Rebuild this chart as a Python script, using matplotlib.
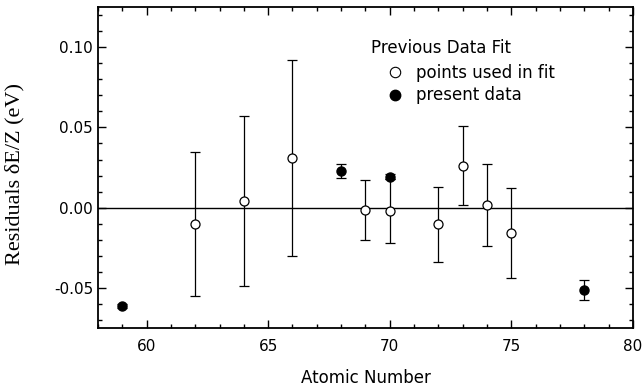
import matplotlib
matplotlib.use('Agg')
import matplotlib.pyplot as plt
from matplotlib.ticker import MultipleLocator
from matplotlib.lines import Line2D

# Residuals of the previous data fit.
fit_z = [62, 64, 66, 69, 70, 72, 73, 74, 75]
fit_res = [-0.0102, 0.0040, 0.0310, -0.0015, -0.0021, -0.0104, 0.0260, 0.0017, -0.0160]
fit_err = [0.0450, 0.0530, 0.0610, 0.0188, 0.0202, 0.0235, 0.0246, 0.0257, 0.0280]

present_z = [59, 68, 70, 78]
present_res = [-0.0613, 0.0229, 0.0194, -0.0511]
present_err = [0.0010, 0.0043, 0.0015, 0.0063]

xticks = [60, 65, 70, 75, 80]
yticks = [-0.05, 0.00, 0.05, 0.10]
ytick_labels = ['-0.05', '0.00', '0.05', '0.10']

plt.rcParams['font.family'] = ['DejaVu Sans']

fig = plt.figure(figsize=(6.44, 3.91), dpi=100)
ax = fig.add_axes([0.152, 0.161, 0.831, 0.821])

ax.axhline(0, color='black', lw=1.0, zorder=1)

ax.errorbar(fit_z, fit_res, yerr=fit_err, fmt='o', mfc='white', mec='black',
            ms=6.5, mew=0.9, ecolor='black', elinewidth=0.9, capsize=3.5,
            capthick=0.9, zorder=3)
ax.errorbar(present_z, present_res, yerr=present_err, fmt='o', mfc='black',
            mec='black', ms=6.5, ecolor='black', elinewidth=0.9, capsize=3.5,
            capthick=0.9, zorder=4)

ax.set_xlim(58, 80)
ax.set_ylim(-0.075, 0.125)
ax.set_xticks(xticks)
ax.set_yticks(yticks)
ax.set_yticklabels(ytick_labels)
ax.xaxis.set_minor_locator(MultipleLocator(1))
ax.yaxis.set_minor_locator(MultipleLocator(0.01))
ax.tick_params(which='both', direction='in', top=True, right=True,
               labelsize=11, width=1.0)
ax.tick_params(which='major', length=5.5)
ax.tick_params(which='minor', length=3)
ax.tick_params(axis='x', pad=8)
for s in ax.spines.values():
    s.set_linewidth(1.3)

ax.set_xlabel('Atomic Number', fontsize=12, labelpad=11)
ax.set_ylabel('Residuals \u03b4E/Z (eV)', fontsize=16,
              family=['Liberation Serif'])
ax.yaxis.set_label_coords(-0.138, 0.48)

# Legend: title as plain text, then two marker entries
ax.text(0.51, 0.872, 'Previous Data Fit', transform=ax.transAxes,
        fontsize=12, ha='left', va='center')
handles = [Line2D([], [], ls='none', marker='o', mfc='white', mec='black', ms=7.5, mew=0.8),
           Line2D([], [], ls='none', marker='o', mfc='black', mec='black', ms=7.5)]
ax.legend(handles, ['points used in fit', 'present data'],
          frameon=False, fontsize=12, loc='upper left',
          bbox_to_anchor=(0.532, 0.822), handletextpad=0.5,
          borderaxespad=0, borderpad=0, labelspacing=0.25,
          handlelength=1.5)

fig.savefig('out.png', dpi=100)
